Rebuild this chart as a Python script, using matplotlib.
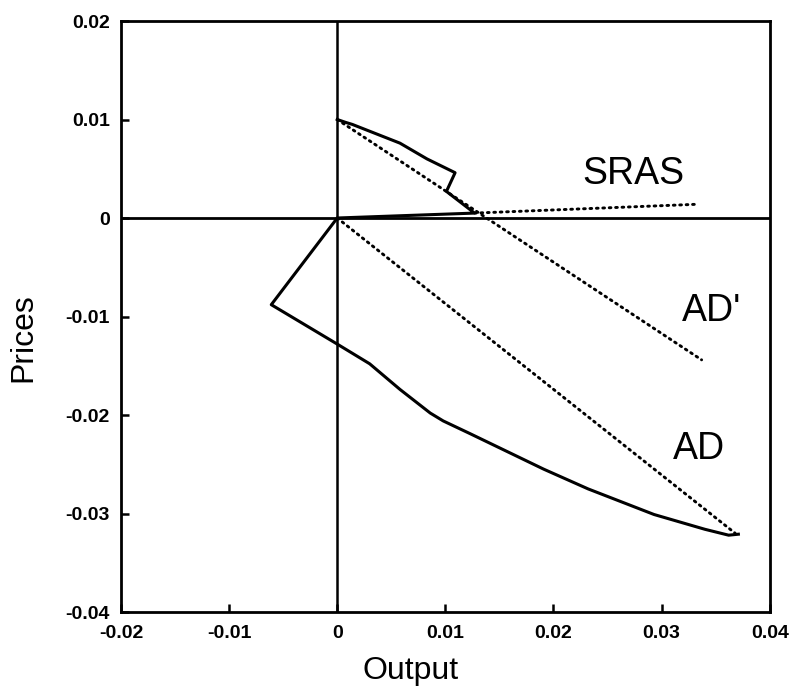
import matplotlib
matplotlib.use("Agg")
import matplotlib.pyplot as plt

# Data
path_x = [0.0, 0.0008, 0.0014, 0.0058, 0.0083, 0.0109, 0.0101, 0.0127, 0.0,
          -0.0061, 0.0, 0.0030, 0.0058, 0.0086, 0.0098, 0.0123, 0.0191, 0.0232,
          0.0293, 0.0340, 0.0362, 0.0371]
path_y = [0.0100, 0.0097, 0.0095, 0.0076, 0.0060, 0.0046, 0.0027, 0.0005, 0.0,
          -0.0088, -0.0128, -0.0148, -0.0174, -0.0198, -0.0206, -0.0219, -0.0255, -0.0275,
          -0.0301, -0.0316, -0.0322, -0.0321]

sras_x = [0.0127, 0.0334]
sras_y = [0.0005, 0.0014]
adp_x = [0.0, 0.0337]
adp_y = [0.0100, -0.0144]
ad_x = [0.0, 0.0368]
ad_y = [0.0, -0.0320]

xticks = [-0.02, -0.01, 0, 0.01, 0.02, 0.03, 0.04]
xticklabels = ["-0.02", "-0.01", "0", "0.01", "0.02", "0.03", "0.04"]
yticks = [-0.04, -0.03, -0.02, -0.01, 0, 0.01, 0.02]
yticklabels = ["-0.04", "-0.03", "-0.02", "-0.01", "0", "0.01", "0.02"]

labels = ["SRAS", "AD'", "AD"]
label_x = [0.0274, 0.0346, 0.0335]
label_y = [0.0045, -0.0094, -0.0235]

plt.rcParams['font.family'] = ['Liberation Sans', 'DejaVu Sans']

fig = plt.figure(figsize=(7.96, 6.91), dpi=100)
ax = fig.add_axes([0.152, 0.1143, 0.815, 0.8553])

ax.axhline(0, color='black', lw=2.0, zorder=1)
ax.axvline(0, color='black', lw=1.8, zorder=1)

dot = (0, (0.6, 1.6))
for xs, ys in [(sras_x, sras_y), (adp_x, adp_y), (ad_x, ad_y)]:
    ax.plot(xs, ys, color='black', lw=2.1, linestyle=dot, dash_capstyle='round')
ax.plot(path_x, path_y, color='black', lw=2.2, solid_joinstyle='round')

for t, x, y in zip(labels, label_x, label_y):
    ax.text(x, y, t, fontsize=27, ha='center', va='center')

ax.set_xlim(-0.02, 0.04)
ax.set_ylim(-0.04, 0.02)
ax.set_xticks(xticks)
ax.set_xticklabels(xticklabels, fontsize=14, fontweight='bold')
ax.set_yticks(yticks)
ax.set_yticklabels(yticklabels, fontsize=14, fontweight='bold')
ax.tick_params(direction='in', length=6, width=1.8, top=False, right=False)
ax.tick_params(axis='x', pad=9)
ax.tick_params(axis='y', pad=8)
for s in ax.spines.values():
    s.set_linewidth(2.0)

ax.set_xlabel("Output", fontsize=23)
ax.set_ylabel("Prices", fontsize=23)
ax.xaxis.set_label_coords(0.447, -0.075)
ax.yaxis.set_label_coords(-0.128, 0.464)

fig.savefig("out.png", dpi=100)
